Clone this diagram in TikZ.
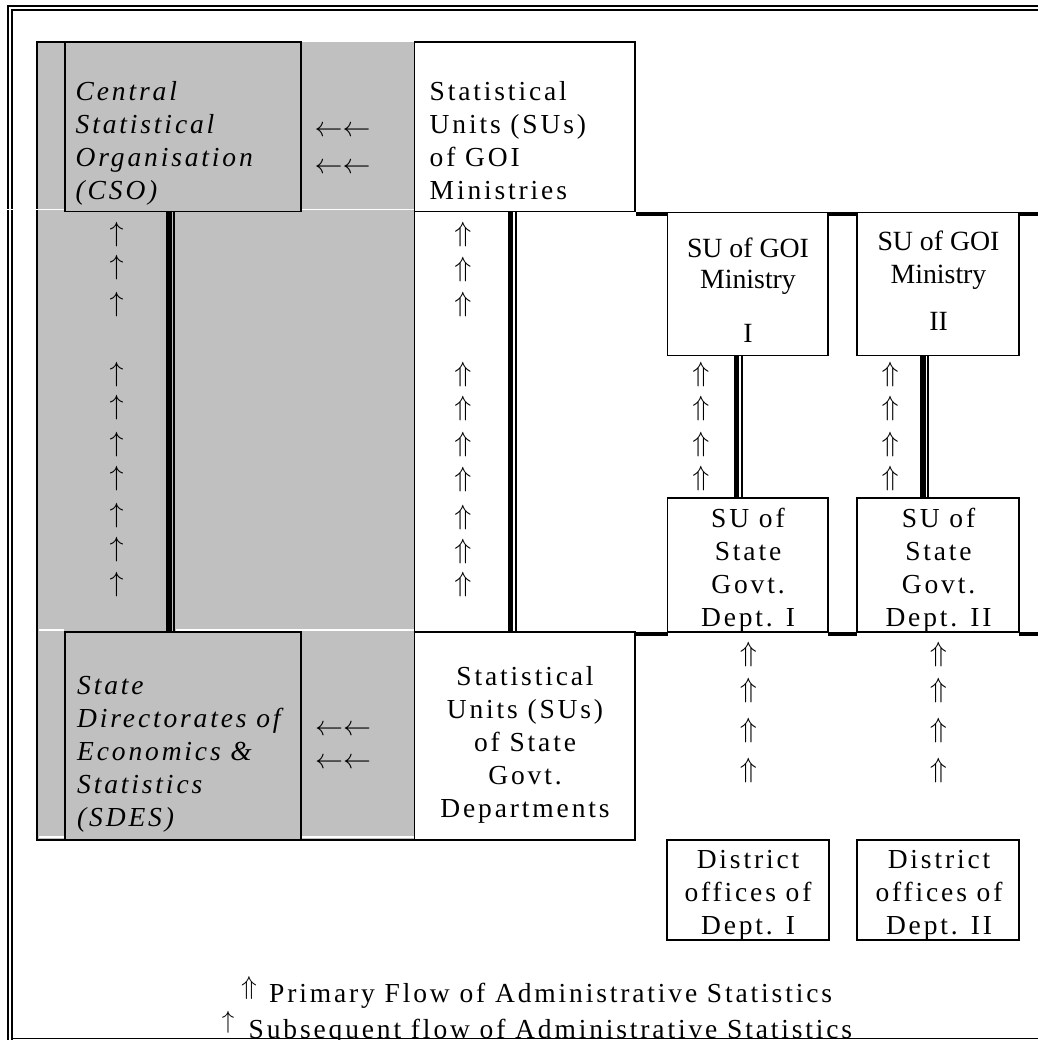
\documentclass[tikz,border=0pt]{standalone}
\usepackage{fontspec}
\setmainfont{Liberation Serif}
\newfontfamily\trackfont[LetterSpace=10.4]{Liberation Serif}
\usepackage{graphicx}
\usetikzlibrary{fit}
\definecolor{cellgray}{HTML}{C0C0C0}
\newcommand\UpDbl[1][2.8]{\scalebox{#1}{$\Uparrow$}}
\newcommand\UpSgl[1][2.8]{\scalebox{#1}{$\uparrow$}}
\newcommand\LeftSgl{\scalebox{2.8}{$\leftarrow$}}
\newcommand\leftlines[1]{\begin{tabular}[t]{@{}l@{}}#1\end{tabular}}
\newcommand\centlines[1]{\begin{tabular}[t]{@{}c@{}}#1\end{tabular}}
\newcommand\dblrule[3]{%
  \draw[tthick] ([xshift=#3bp]#1.south) -- ([xshift=#3bp]#2.north);
  \draw[tthin] ([xshift=#3bp+5.15bp]#1.south) -- ([xshift=#3bp+5.15bp]#2.north);}
\begin{document}
\begin{tikzpicture}[x=1bp,y=-1bp,
  tbox/.style={draw=black,line width=1.8bp,inner sep=0pt,outer sep=0pt},
  trule/.style={line width=1.8bp},
  tbar/.style={line width=4.5bp},
  tthick/.style={line width=5.5bp},
  tthin/.style={line width=1.8bp},
  tgap/.style={draw=white,line width=1.6bp},
  tborder/.style={line width=1.6bp},
  tglyph/.style={inner sep=0pt,anchor=center},
  txtl/.style={inner sep=0pt,anchor=base west,font=\trackfont\fontsize{27.5bp}{33bp}\selectfont},
  txtli/.style={inner sep=0pt,anchor=base west,font=\trackfont\itshape\fontsize{27.5bp}{33bp}\selectfont},
  txtc/.style={inner sep=0pt,anchor=base,font=\trackfont\fontsize{27.5bp}{33bp}\selectfont},
  txtn/.style={inner sep=0pt,anchor=base,font=\fontsize{27.8bp}{31bp}\selectfont},
]
\useasboundingbox (0,0) rectangle (1038,1040);
\begin{scope}
\clip (0,0) rectangle (1038,1040);
% outer double border
\draw[tborder] (8,1042) |- (1042,5.8);
\draw[tborder] (11.7,1042) |- (1042,10.2);
% gray block
\fill[cellgray] (37,41.7) rectangle (414.5,839.7);
% boxes
\node[tbox,fit={(65,41.7)(301,211.5)}] (cso) {};
\node[tbox,fit={(414.5,41.7)(635.3,211.5)}] (sug) {};
\node[tbox,fit={(667.5,212.5)(828.3,355.5)}] (gm1) {};
\node[tbox,fit={(857,212.5)(1018.8,355.5)}] (gm2) {};
\node[tbox,fit={(667.5,497.8)(828.3,632.2)}] (sd1) {};
\node[tbox,fit={(857,497.8)(1018.8,632.2)}] (sd2) {};
\node[tbox,fit={(65,632.2)(301,839.7)}] (sdes) {};
\node[tbox,fit={(414.5,632.2)(635.3,839.7)}] (sus) {};
\node[tbox,fit={(667,840.3)(829,940)}] (di1) {};
\node[tbox,fit={(857,840.3)(1019,940)}] (di2) {};
% gray block outline
\draw[trule] (cso.north west) -- (37,41.7) -- (37,839.7) -- (sus.south east);
\draw[trule] (sug.south west) -- (sus.north west);
% thick table rules on the right
\draw[tbar] (636,213.8) -- (667.5,213.8);
\draw[tbar] (828.3,213.8) -- (857,213.8);
\draw[tbar] (1018.8,213.8) -- (1042,213.8);
\draw[tbar] (636,634) -- (667.5,634);
\draw[tbar] (828.3,634) -- (857,634);
\draw[tbar] (1018.8,634) -- (1042,634);
% white cell gaps
\draw[tgap] (0,209.5) -- (64,209.5);
\draw[tgap] (302,209.5) -- (413.5,209.5);
\draw[tgap] (38.5,629.9) -- (64,629.9);
\draw[tgap] (175.5,629.9) -- (413.5,629.9);
\draw[tgap] (38.5,837) -- (64,837);
\draw[tgap] (302,837) -- (413.5,837);
% double vertical rules
\dblrule{cso}{sdes}{-14}
\dblrule{sug}{sus}{-14.2}
\dblrule{gm1}{sd1}{-11.3}
\dblrule{gm2}{sd2}{-14.9}
% texts
\node[txtli] (csot) at (75.5,100) {\leftlines{Central\\Statistical\\Organisation\\(CSO)}};
\node[txtl] (sugt) at (429.5,100) {\leftlines{Statistical\\Units (SUs)\\of GOI\\Ministries}};
\node[txtn] (gm1t) at (748,257) {\centlines{SU of GOI\\Ministry\\[23bp]I}};
\node[txtn,font=\fontsize{27.8bp}{33bp}\selectfont] (gm2t) at (938.5,250) {\centlines{SU of GOI\\Ministry\\[14bp]II}};
\node[txtc] (sd1t) at (748,527.5) {\centlines{SU of\\State\\Govt.\\Dept. I}};
\node[txtc] (sd2t) at (938.5,527.5) {\centlines{SU of\\State\\Govt.\\Dept. II}};
\node[txtli] (sdest) at (77,694.5) {\leftlines{State\\Directorates of\\Economics \&\\Statistics\\(SDES)}};
\node[txtc] (sust) at (525,685) {\centlines{Statistical\\Units (SUs)\\of State\\Govt.\\Departments}};
\node[txtc] (di1t) at (748,868.5) {\centlines{District\\offices of\\Dept. I}};
\node[txtc] (di2t) at (939,868.5) {\centlines{District\\offices of\\Dept. II}};
% left arrows
\node[tglyph] (la1) at (342.5,131.7) {\LeftSgl\LeftSgl};
\node[tglyph] (la2) at (342.5,168.3) {\LeftSgl\LeftSgl};
\node[tglyph] (la3) at (343,730) {\LeftSgl\LeftSgl};
\node[tglyph] (la4) at (343,763.3) {\LeftSgl\LeftSgl};
% up arrows
\foreach \yy [count=\i] in {234.2,267.8,304.2,374.2,407.8,444.2,478.2,515.8,550,584.2}
  \node[tglyph] (sa\i) at (116.7,\yy) {\UpSgl};
\foreach \yy [count=\i] in {234.2,269.2,304.7,374.2,408.8,444.2,479.2,517.5,551.3,585}
  \node[tglyph] (pa\i) at (463,\yy) {\UpDbl};
\foreach \yy [count=\i] in {374.2,409,444.2,478.5}
  {\node[tglyph] (pb\i) at (701,\yy) {\UpDbl};
   \node[tglyph] (pc\i) at (890.2,\yy) {\UpDbl};}
\foreach \yy [count=\i] in {654.2,690.8,730.5,770.8}
  {\node[tglyph] (pd\i) at (748.3,\yy) {\UpDbl};
   \node[tglyph] (pe\i) at (938.3,\yy) {\UpDbl};}
% legend
\node[tglyph] (lg1a) at (249,988.3) {\UpDbl[2.6]};
\node[txtl] (lg1) at (269,1002) {Primary Flow of Administrative Statistics};
\node[tglyph] (lg2a) at (228,1022.3) {\UpSgl[2.5]};
\node[txtl] (lg2) at (248.5,1038) {Subsequent flow of Administrative Statistics};
\draw[tborder] (11.7,1038.3) -- (1042,1038.3);
\end{scope}
\end{tikzpicture}
\end{document}
